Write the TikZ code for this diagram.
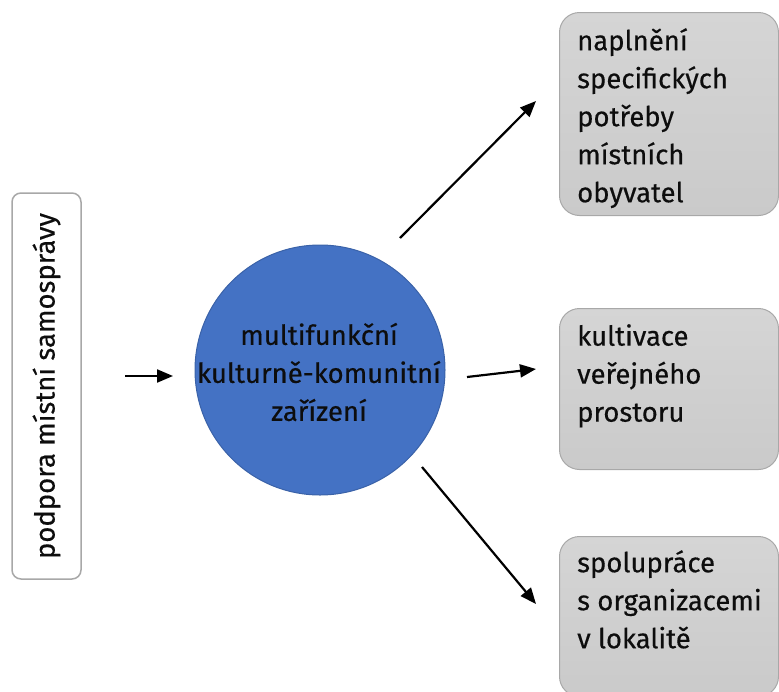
\documentclass[tikz,border=0pt]{standalone}
\usepackage{fontspec}
\setmainfont{Fira Sans}[FakeBold=0.4]
\usetikzlibrary{arrows.meta}
\definecolor{hubblue}{HTML}{4472C4}
\definecolor{hubedge}{HTML}{3A62A8}
\definecolor{boxtop}{HTML}{D5D5D5}
\definecolor{boxbot}{HTML}{CACACA}
\definecolor{boxedge}{HTML}{A8A8A8}
\tikzset{
  txt/.style={font=\fontsize{27.5}{38}\selectfont, text=black!95},
  graybox/.style={draw=boxedge, line width=1pt, rounded corners=20pt,
    top color=boxtop, bottom color=boxbot, anchor=north west, inner sep=0pt},
  sidebox/.style={draw=boxedge, line width=1.5pt, rounded corners=9pt, fill=white},
  boxtext/.style={txt, align=left, anchor=north west, inner sep=0pt},
  arr/.style={line width=2.2pt, -{Triangle[length=16pt,width=13pt]}},
}
\begin{document}
\begin{tikzpicture}[x=1pt,y=-1pt]
\useasboundingbox (0,0) rectangle (779,691);
% left box
\node[sidebox, txt, rotate=90, minimum width=386, minimum height=69] (support) at (46.5,386) {podpora místní samosprávy};
% hub
\node[circle, fill=hubblue, draw=hubedge, line width=1pt, minimum size=250, inner sep=0pt] (hub) at (320,370) {};
\node[txt, align=center, inner sep=0pt] (hubt) at (319,372) {multifunkční\\kulturně-komunitní\\zařízení};
% right boxes
\node[graybox, minimum width=219, minimum height=203] (needs) at (559,12) {};
\node[graybox, minimum width=219, minimum height=161] (space) at (559,308) {};
\node[graybox, minimum width=219, minimum height=160] (coop) at (559,536) {};
\node[boxtext] (needst) at (577,28) {naplnění\\specifických\\potřeby\\místních\\obyvatel};
\node[boxtext] (spacet) at (577,324) {kultivace\\veřejného\\prostoru};
\node[boxtext] (coopt) at (577,550) {spolupráce\\s organizacemi\\v lokalitě};
% arrows
\coordinate (in1) at (125,376);
\coordinate (in2) at (173,376);
\coordinate (o1s) at (400,238);
\coordinate (o1e) at (536,101);
\coordinate (o2s) at (467,377);
\coordinate (o2e) at (536,369);
\coordinate (o3s) at (422,467);
\coordinate (o3e) at (536,604);
\draw[arr] (in1) -- (in2);
\draw[arr] (o1s) -- (o1e);
\draw[arr] (o2s) -- (o2e);
\draw[arr] (o3s) -- (o3e);
\end{tikzpicture}
\end{document}
